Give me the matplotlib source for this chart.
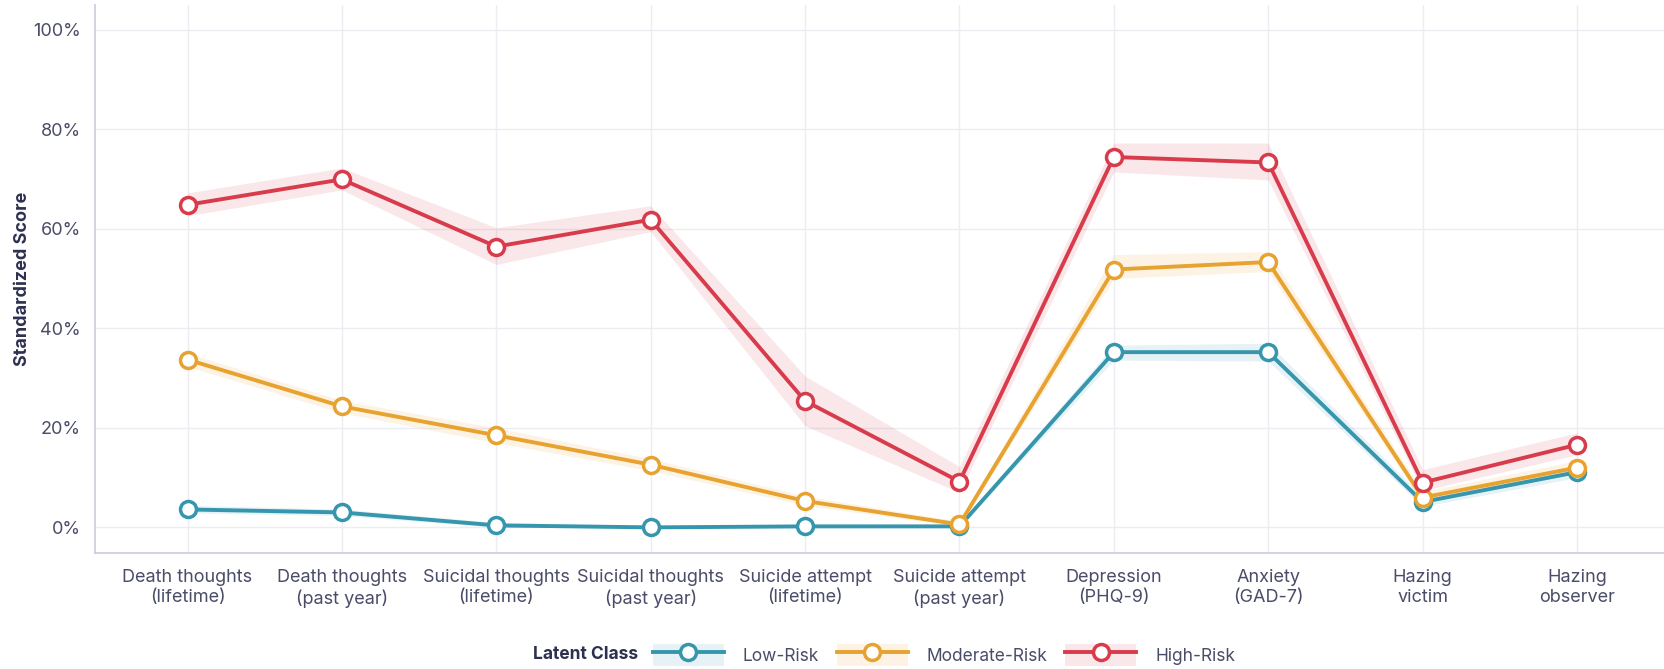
import matplotlib
matplotlib.use("Agg")
import matplotlib.pyplot as plt
from matplotlib.lines import Line2D
from matplotlib.patches import Rectangle
from matplotlib.legend_handler import HandlerTuple
from matplotlib.ticker import FuncFormatter

plt.rcParams['font.family'] = ['Inter', 'DejaVu Sans']

categories = ["Death thoughts\n(lifetime)", "Death thoughts\n(past year)",
              "Suicidal thoughts\n(lifetime)", "Suicidal thoughts\n(past year)",
              "Suicide attempt\n(lifetime)", "Suicide attempt\n(past year)",
              "Depression\n(PHQ-9)", "Anxiety\n(GAD-7)", "Hazing\nvictim", "Hazing\nobserver"]

low = [3.6, 3.0, 0.4, 0.0, 0.2, 0.2, 35.2, 35.2, 5.1, 11.1]
low_lo = [2.9, 2.4, 0.0, 0.0, 0.0, 0.0, 33.6, 33.4, 4.2, 10.0]
low_hi = [4.4, 3.7, 1.0, 0.4, 0.6, 0.6, 36.6, 37.0, 6.2, 12.2]

mod = [33.7, 24.3, 18.5, 12.6, 5.3, 0.6, 51.8, 53.3, 6.0, 12.0]
mod_lo = [32.3, 23.0, 17.0, 11.4, 4.4, 0.2, 50.0, 51.4, 5.0, 10.8]
mod_hi = [35.0, 25.5, 20.0, 13.8, 6.3, 1.2, 54.8, 55.4, 7.2, 13.4]

high = [64.8, 69.9, 56.4, 61.8, 25.4, 9.2, 74.4, 73.3, 9.0, 16.6]
high_lo = [62.6, 67.8, 52.8, 59.4, 20.4, 7.0, 71.4, 69.8, 7.4, 14.6]
high_hi = [67.2, 72.2, 60.2, 64.6, 30.4, 12.2, 77.2, 77.2, 11.6, 19.0]

class_names = ["Low-Risk", "Moderate-Risk", "High-Risk"]
colors = ["#3596ad", "#e8a22f", "#d83b4b"]
series = [(low, low_lo, low_hi), (mod, mod_lo, mod_hi), (high, high_lo, high_hi)]

fig = plt.figure(figsize=(16.65, 6.69), dpi=100)
ax = fig.add_axes([0.057, 0.173, 0.943, 0.82])

x = list(range(len(categories)))
handles = []
for (vals, lo, hi), c, name in zip(series, colors, class_names):
    ax.fill_between(x, lo, hi, color=c, alpha=0.12, linewidth=0, zorder=2)
    ax.plot(x, vals, color=c, linewidth=2.8, marker='o', markersize=11.5,
            markerfacecolor='white', markeredgecolor=c, markeredgewidth=2.5, zorder=3)
    patch = Rectangle((0, 0), 1, 1, facecolor=c, alpha=0.12, edgecolor='none')
    line = Line2D([], [], color=c, linewidth=2.8, marker='o', markersize=11.5,
                  markerfacecolor='white', markeredgecolor=c, markeredgewidth=2.5)
    handles.append((patch, line))

ax.set_xlim(-0.6, 9.57)
ax.set_ylim(-5.2, 105)
ax.set_yticks([0, 20, 40, 60, 80, 100])
ax.yaxis.set_major_formatter(FuncFormatter(lambda v, p: f"{v:.0f}%"))
ax.set_xticks(x)
ax.set_xticklabels(categories)
ax.tick_params(axis='both', length=0, labelsize=13, labelcolor='#4a4c68')
ax.tick_params(axis='x', pad=11.5)
ax.tick_params(axis='y', pad=10)
ax.grid(True, color='#ececf2', linewidth=1.0, zorder=0)
ax.set_axisbelow(True)
for s in ['top', 'right']:
    ax.spines[s].set_visible(False)
for s in ['left', 'bottom']:
    ax.spines[s].set_color('#cfd0de')
    ax.spines[s].set_linewidth(1.3)

ax.set_ylabel("Standardized Score", fontsize=13, fontweight='bold', color='#2e3050')
ax.yaxis.set_label_coords(-0.041, 0.5)

leg = fig.legend(handles, class_names, loc='center', bbox_to_anchor=(0.567, 0.021), ncol=3,
                 frameon=False, fontsize=12.5, handlelength=4.1, handleheight=1.6,
                 handletextpad=1.1, columnspacing=1.0,
                 handler_map={tuple: HandlerTuple(ndivide=1, pad=0)})
for t in leg.get_texts():
    t.set_color('#4a4c68')
fig.text(0.383, 0.021, "Latent Class", ha='right', va='center', fontsize=12.5,
         fontweight='bold', color='#2e3050')

fig.savefig("out.png", dpi=100)
